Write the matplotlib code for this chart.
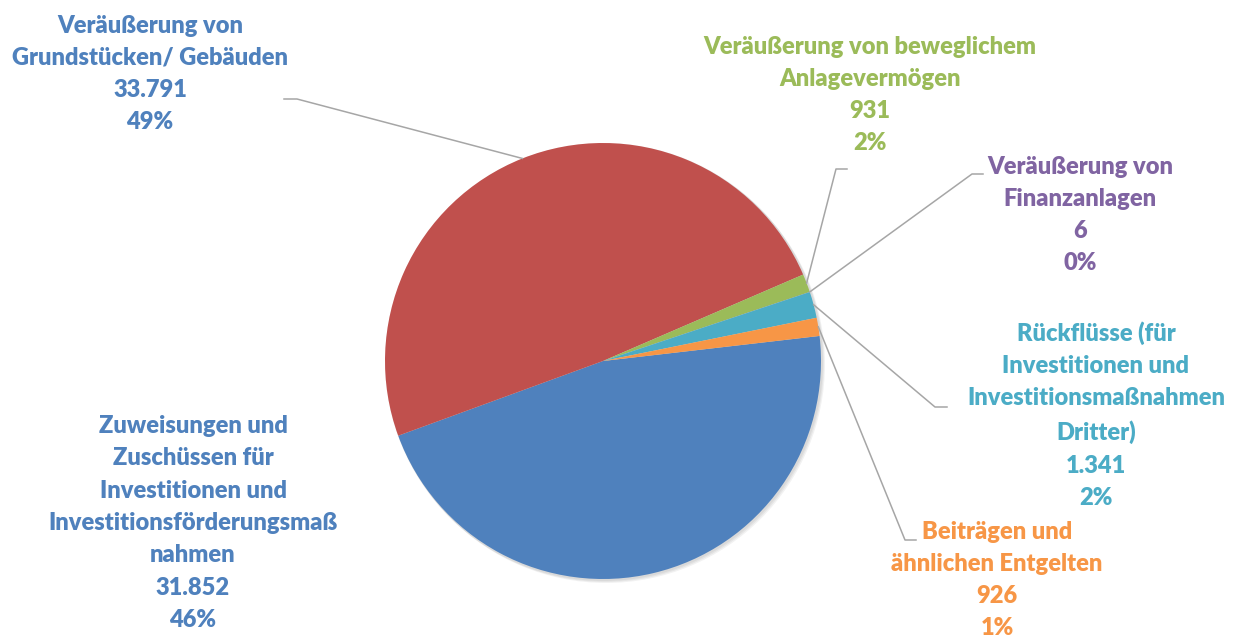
import numpy as np
import matplotlib.pyplot as plt
from matplotlib.patches import Circle

# data
categories = [
    "Zuweisungen und\nZuschüssen für\nInvestitionen und\nInvestitionsförderungsmaß\nnahmen",
    "Veräußerung von\nGrundstücken/ Gebäuden",
    "Veräußerung von beweglichem\nAnlagevermögen",
    "Veräußerung von\nFinanzanlagen",
    "Rückflüsse (für\nInvestitionen und\nInvestitionsmaßnahmen\nDritter)",
    "Beiträgen und\nähnlichen Entgelten",
]
values = [31852, 33791, 931, 6, 1341, 926]
pct_labels = ["46%", "49%", "2%", "0%", "2%", "1%"]
colors = ["#4F81BD", "#C0504D", "#9BBB59", "#8064A2", "#4BACC6", "#F79646"]
# label text colours (the Grundstücke label is blue in the original)
label_colors = ["#4F81BD", "#4F81BD", "#9BBB59", "#8064A2", "#4BACC6", "#F79646"]

W, H = 1234, 636
# label centre, and leader elbow/end (image pixel coords, y down)
label_pos = [(193, 523), (150, 74), (870, 95), (1080, 215), (1096, 415), (997, 580)]
leaders = [None, ((297, 99), (284, 99)), ((836, 169), (847, 169)),
           ((972, 174), (983, 174)), ((935, 407), (947, 407)), ((905, 540), (916, 540))]

cx, cy, r = 603, H - 361, 218

fig = plt.figure(figsize=(W / 100, H / 100), dpi=100)
ax = fig.add_axes([0, 0, 1, 1])

# soft shadow
for k in range(3):
    ax.add_patch(Circle((cx + 1 + k, cy - 1 - k), r + 1, color='black', alpha=0.05, lw=0, zorder=0))

wedges, _ = ax.pie(values, colors=colors, startangle=6.6, counterclock=False,
                   center=(cx, cy), radius=r, frame=True,
                   wedgeprops=dict(linewidth=0))
ax.set_xlim(0, W)
ax.set_ylim(0, H)
ax.set_aspect('equal')
ax.axis('off')


def fmt(v):
    return f"{v:,}".replace(",", ".")


for w, cat, v, pct, col, pos, ld in zip(wedges, categories, values, pct_labels, label_colors, label_pos, leaders):
    ax.text(pos[0], H - pos[1], f"{cat}\n{fmt(v)}\n{pct}", color=col, fontsize=17,
            family='Lato', fontweight=800, ha='center', va='center',
            multialignment='center', linespacing=1.57)
    if ld is not None:
        mid = np.deg2rad((w.theta1 + w.theta2) / 2)
        x0, y0 = cx + r * np.cos(mid), cy + r * np.sin(mid)
        (ex, ey), (tx, ty) = ld
        ax.plot([x0, ex, tx], [y0, H - ey, H - ty], color='#A6A6A6', lw=1.1, zorder=1)

fig.savefig("out.png", dpi=100)
